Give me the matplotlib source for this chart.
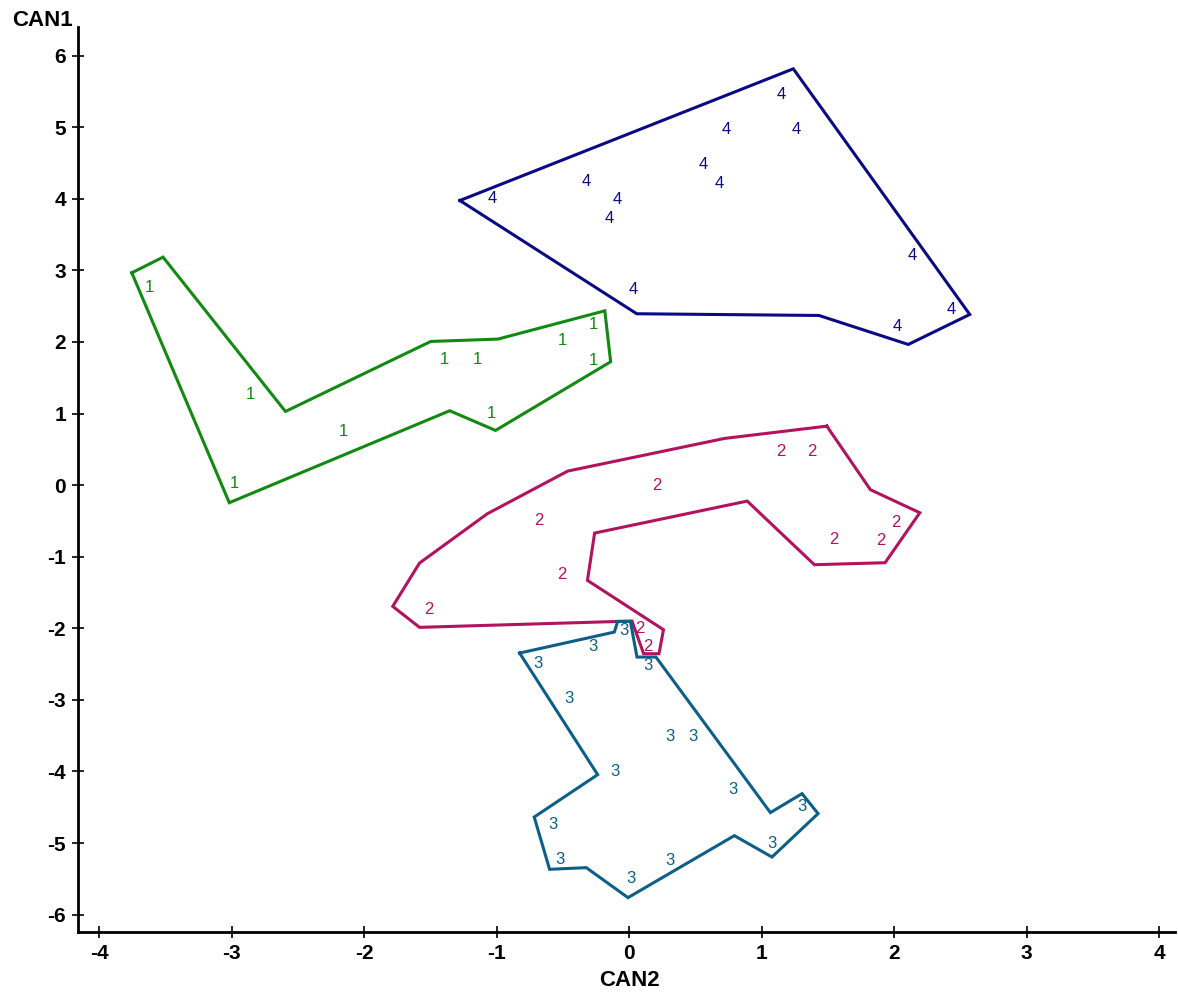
import matplotlib
matplotlib.use("Agg")
import matplotlib.pyplot as plt

plt.rcParams['font.family'] = ['Liberation Sans', 'DejaVu Sans']

# group 1 (green)
g1_x = [-3.624, -2.859, -2.156, -2.981, -1.394, -1.147, -0.502, -0.268, -0.268, -1.039]
g1_y = [2.757, 1.262, 0.754, 0.020, 1.756, 1.756, 2.021, 2.244, 1.742, 0.997]
g1_hull_x = [-3.756, -3.520, -2.596, -1.499, -0.992, -0.185, -0.141, -1.010, -1.356, -3.020]
g1_hull_y = [2.966, 3.185, 1.029, 2.007, 2.040, 2.435, 1.723, 0.764, 1.039, -0.246]

# group 2 (crimson)
g2_x = [1.140, 1.378, 0.205, -0.686, 2.012, 1.545, 1.896, -0.513, -1.517, 0.080, 0.137]
g2_y = [0.475, 0.475, -0.004, -0.493, -0.516, -0.763, -0.772, -1.247, -1.736, -2.006, -2.249]
g2_hull_x = [1.491, 1.820, 2.193, 1.931, 1.397, 0.890, -0.262, -0.316, 0.258, 0.224,
             0.108, 0.020, -1.584, -1.786, -1.584, -1.072, -0.465, 0.718]
g2_hull_y = [0.824, -0.064, -0.386, -1.084, -1.112, -0.223, -0.670, -1.331, -2.020, -2.355,
             -2.355, -1.899, -1.987, -1.694, -1.089, -0.400, 0.196, 0.652]

# group 3 (teal)
g3_x = [-0.692, -0.274, -0.043, 0.139, -0.453, 0.310, 0.481, -0.106, 0.780, 1.304,
        -0.576, 1.077, -0.521, 0.305, 0.013]
g3_y = [-2.495, -2.249, -2.029, -2.518, -2.983, -3.506, -3.506, -3.999, -4.254, -4.487,
        -4.739, -5.000, -5.232, -5.251, -5.489]
g3_hull_x = [-0.828, -0.113, -0.088, 0.008, 0.058, 0.201, 1.065, 1.304, 1.425, 1.077,
             0.793, -0.010, -0.325, -0.602, -0.718, -0.239]
g3_hull_y = [-2.346, -2.053, -1.904, -1.904, -2.402, -2.402, -4.575, -4.310, -4.589, -5.196,
             -4.897, -5.763, -5.344, -5.367, -4.637, -4.045]

# group 4 (navy)
g4_x = [-1.031, -0.327, -0.090, -0.149, 0.558, 0.677, 0.730, 1.149, 1.259, 0.029,
        2.133, 2.430, 2.020]
g4_y = [4.000, 4.246, 3.986, 3.729, 4.475, 4.218, 4.972, 5.452, 4.972, 2.729,
        3.208, 2.454, 2.221]
g4_hull_x = [-1.279, 1.238, 2.570, 2.106, 1.432, 0.056]
g4_hull_y = [3.976, 5.816, 2.384, 1.965, 2.370, 2.394]

groups = [
    ("1", g1_x, g1_y, g1_hull_x, g1_hull_y, "#128a12"),
    ("2", g2_x, g2_y, g2_hull_x, g2_hull_y, "#b3125e"),
    ("3", g3_x, g3_y, g3_hull_x, g3_hull_y, "#0c5f88"),
    ("4", g4_x, g4_y, g4_hull_x, g4_hull_y, "#0a0a85"),
]

x_ticks = [-4, -3, -2, -1, 0, 1, 2, 3, 4]
y_ticks = [-6, -5, -4, -3, -2, -1, 0, 1, 2, 3, 4, 5, 6]

fig = plt.figure(figsize=(11.78, 10), dpi=100)
ax = fig.add_axes([0.066, 0.068, 0.9315, 0.905])

for lab, xs, ys, hx, hy, col in groups:
    ax.plot(hx + hx[:1], hy + hy[:1], color=col, lw=2.2, solid_joinstyle='miter')
    for x, y in zip(xs, ys):
        ax.text(x, y, lab, color=col, fontsize=12, ha='center', va='center')

ax.set_xlim(-4.164, 4.12)
ax.set_ylim(-6.243, 6.40)
ax.spines['top'].set_visible(False)
ax.spines['right'].set_visible(False)
ax.spines['left'].set_linewidth(2)
ax.spines['bottom'].set_linewidth(2)
ax.set_xticks(x_ticks)
ax.set_yticks(y_ticks)
ax.set_xticklabels([str(t) for t in x_ticks], fontweight='bold', fontsize=15)
ax.set_yticklabels([str(t) for t in y_ticks], fontweight='bold', fontsize=15)
ax.tick_params(direction='inout', length=9, width=1.2, pad=4)

fig.text(0.036, 0.980, "CAN1", fontsize=16, fontweight='bold', ha='center', va='center')
fig.text(0.534, 0.020, "CAN2", fontsize=16, fontweight='bold', ha='center', va='center')

fig.savefig("out.png", dpi=100)
